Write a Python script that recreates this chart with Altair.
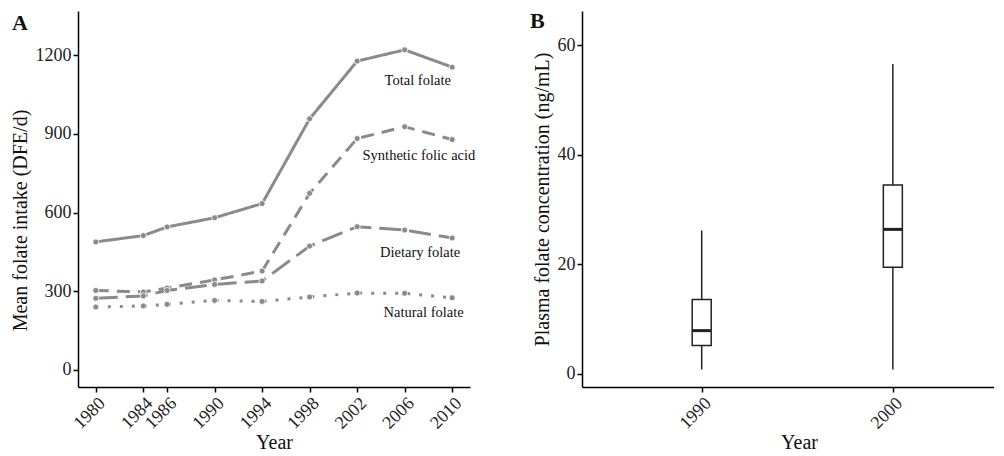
import altair as alt
import pandas as pd

# ---------------- Panel A data ----------------
years = [1980, 1984, 1986, 1990, 1994, 1998, 2002, 2006, 2010]
total_folate = [488, 512, 545, 580, 634, 957, 1177, 1220, 1154]
synthetic_folic = [303, 297, 312, 343, 377, 673, 882, 927, 878]
dietary_folate = [273, 282, 303, 326, 339, 472, 546, 533, 503]
natural_folate = [240, 244, 250, 265, 261, 278, 293, 292, 275]
series_names = ["Total folate", "Synthetic folic acid", "Dietary folate", "Natural folate"]

# annotation anchors (data coordinates)
label_year = [2007.1, 2007.2, 2007.3, 2007.6]
label_value = [1101, 815, 446, 217]

# ---------------- Panel B data ----------------
box_years = [1990, 2000]
whisker_low = [0.8, 0.8]
q1 = [5.2, 19.5]
median = [7.9, 26.4]
q3 = [13.6, 34.5]
whisker_high = [26.2, 56.6]

GRAY = "#8a8a8a"
FONT = "Liberation Serif"

rows = []
for name, vals in zip(series_names, [total_folate, synthetic_folic, dietary_folate, natural_folate]):
    for yr, v in zip(years, vals):
        rows.append({"series": name, "year": yr, "value": v})
df = pd.DataFrame(rows)
df_lab = pd.DataFrame({"text": series_names, "year": label_year, "value": label_value})

xA = alt.X("year:Q",
           scale=alt.Scale(domain=[1978.5, 2011.5], nice=False, zero=False),
           axis=alt.Axis(values=years, format="d", labelAngle=-45, labelAlign="right",
                         labelBaseline="top", labelOffset=0, labelOverlap=False,
                         title="Year", titlePadding=0))
yA = alt.Y("value:Q",
           scale=alt.Scale(domain=[-65, 1368], nice=False, zero=False),
           axis=alt.Axis(values=[0, 300, 600, 900, 1200], format="d", labelOverlap=False,
                         title="Mean folate intake (DFE/d)", titlePadding=5, titleY=209))

lines = alt.Chart(df).mark_line(color=GRAY, strokeWidth=3).encode(
    x=xA, y=yA,
    strokeDash=alt.StrokeDash("series:N",
                              scale=alt.Scale(domain=series_names,
                                              range=[[1, 0], [13, 8], [22, 8], [3, 9]]),
                              legend=None),
    detail="series:N",
)
points = alt.Chart(df).mark_circle(color=GRAY, size=36, opacity=1, stroke="white",
                                   strokeWidth=0.8).encode(x="year:Q", y="value:Q")
labels = alt.Chart(df_lab).mark_text(font=FONT, fontSize=14.5, color="#111",
                                     align="center", baseline="middle").encode(
    x="year:Q", y="value:Q", text="text:N")
tagA = alt.Chart(pd.DataFrame({"t": ["A"]})).mark_text(
    font=FONT, fontSize=22, fontWeight="bold", color="#111", align="left", baseline="top"
).encode(text="t:N", x=alt.value(-66), y=alt.value(2))

panelA = alt.layer(lines, points, labels, tagA).properties(width=392, height=376)

# ---------------- Panel B ----------------
dfB = pd.DataFrame({"year": box_years, "lo": whisker_low, "q1": q1, "med": median,
                    "q3": q3, "hi": whisker_high})
xB = alt.X("year:Q",
           scale=alt.Scale(domain=[1984, 2005.03], nice=False, zero=False),
           axis=alt.Axis(values=box_years, format="d", labelAngle=-45, labelAlign="right",
                         labelBaseline="top", labelOffset=0, labelOverlap=False,
                         title="Year", titlePadding=0, titleX=217))
yB = alt.Y("lo:Q",
           scale=alt.Scale(domain=[-2.4, 66.3], nice=False, zero=False),
           axis=alt.Axis(values=[0, 20, 40, 60], format="d", labelOverlap=False,
                         title="Plasma folate concentration (ng/mL)", titlePadding=5))

whisk = alt.Chart(dfB).mark_rule(color="#222", strokeWidth=1.5).encode(x=xB, y=yB, y2="hi:Q")
box = alt.Chart(dfB).mark_bar(size=19, fill="white", stroke="#222", strokeWidth=1.5).encode(
    x="year:Q", y="q1:Q", y2="q3:Q")
med = alt.Chart(dfB).transform_calculate(
    xl="datum.year - 0.48", xr="datum.year + 0.48"
).mark_rule(color="#222", strokeWidth=3).encode(x="xl:Q", x2="xr:Q", y="med:Q")
tagB = alt.Chart(pd.DataFrame({"t": ["B"]})).mark_text(
    font=FONT, fontSize=22, fontWeight="bold", color="#111", align="left", baseline="top"
).encode(text="t:N", x=alt.value(-52), y=alt.value(0))

panelB = alt.layer(whisk, box, med, tagB).properties(width=412, height=376)

chart = alt.hconcat(panelA, panelB, spacing=54).properties(
    padding={"left": 2, "top": 2, "right": 0, "bottom": 0}
).configure_view(stroke=None).configure_axis(
    grid=False, domainColor="black", domainWidth=1.5, tickColor="black", tickWidth=1.5,
    tickSize=5, labelFont=FONT, labelFontSize=18, labelColor="#222", labelPadding=2,
    titleFont=FONT, titleFontSize=20, titleFontWeight="normal", titleColor="#111",
).configure_axisX(labelFlush=False).configure_axisY(labelFlush=False)

chart.save("out.html", embed_options={"renderer": "svg", "actions": False})
